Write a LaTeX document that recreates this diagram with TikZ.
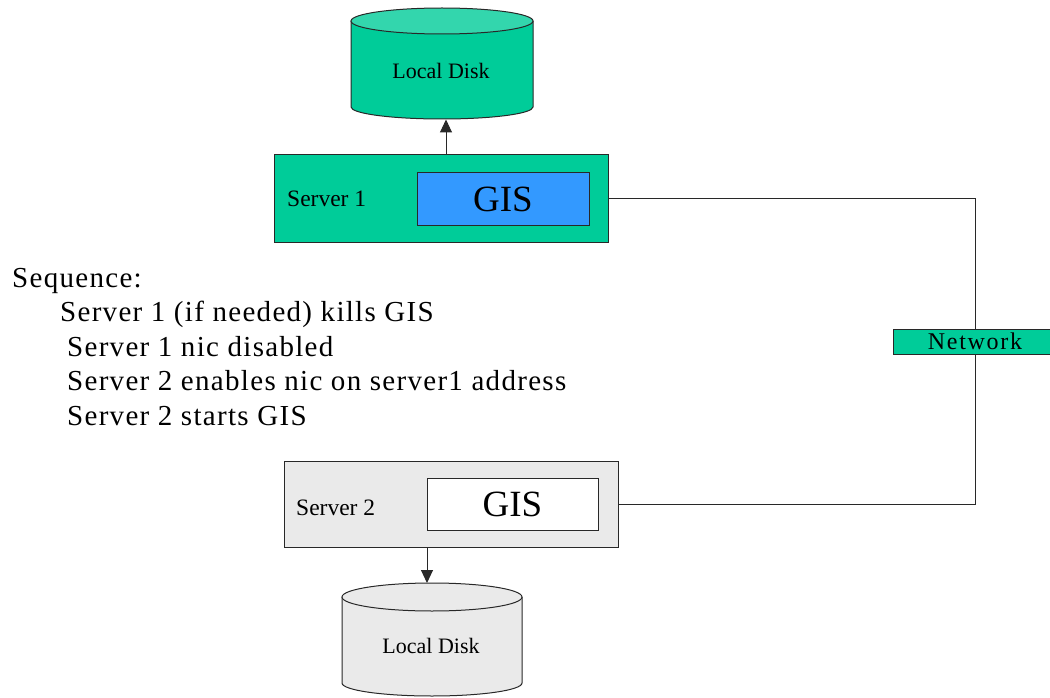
\documentclass[tikz,border=0pt]{standalone}
\usepackage{fontspec}
\setmainfont{Liberation Serif}
\usetikzlibrary{arrows.meta,calc}
\definecolor{srvgreen}{RGB}{0,204,153}
\definecolor{diskgreentop}{RGB}{51,214,173}
\definecolor{gisblue}{RGB}{51,153,255}
\definecolor{srvgray}{RGB}{234,234,234}
\definecolor{edgecol}{RGB}{40,40,40}
\begin{document}
\begin{tikzpicture}[x=1pt,y=-1pt,
  box/.style={draw=edgecol, line width=1pt, inner sep=0pt},
  lbl/.style={inner sep=0pt, anchor=base west, font=\fontsize{23.5}{27}\selectfont},
  seq/.style={inner sep=0pt, anchor=base west, font=\fontsize{29}{34}\selectfont\addfontfeature{LetterSpace=4.5}},
  gis/.style={box, font=\fontsize{37}{42}\selectfont, minimum width=172pt, minimum height=52pt},
  srv/.style={box, minimum width=334pt, minimum height=87pt},
  disklbl/.style={inner sep=0pt, font=\fontsize{22}{26}\selectfont},
  cyl/.style={draw=edgecol, line width=1pt},
  conn/.style={draw=edgecol, line width=1pt},
  arr/.style={conn, -{Triangle[length=13pt,width=12pt]}},
]
\useasboundingbox (0,0) rectangle (1050,698);
\clip (0,0) rectangle (1050,698);

% top disk
\path[cyl, fill=srvgreen] (351,21) -- (351,107) arc[start angle=180, end angle=360, x radius=91pt, y radius=12pt] -- (533,21);
\path[cyl, fill=diskgreentop] (442,21) ellipse[x radius=91pt, y radius=13pt];
\node[disklbl] (disk1) at (441,70.5) {Local Disk};
\coordinate (d1b) at (446,119.5);

% bottom disk
\path[cyl, fill=srvgray] (342,597) -- (342,683) arc[start angle=180, end angle=360, x radius=90pt, y radius=13pt] -- (522,597);
\path[cyl, fill=srvgray] (432,597) ellipse[x radius=90pt, y radius=14pt];
\node[disklbl] (disk2) at (431,645.5) {Local Disk};
\coordinate (d2t) at (427,583);

% server 1
\node[srv, fill=srvgreen] (s1) at (441,198.5) {};
\node[gis, fill=gisblue] (gis1) at (503,199) {GIS};
\node[lbl] (s1lbl) at (287,207) {Server 1};

% server 2
\node[srv, fill=srvgray, minimum height=86pt] (s2) at (451,504) {};
\node[gis, fill=white, minimum width=171pt] (gis2) at (512.5,504) {GIS};
\node[lbl] (s2lbl) at (296,515) {Server 2};

% network
\node[box, fill=srvgreen, minimum width=164pt, minimum height=25pt, font=\fontsize{24}{28}\selectfont\addfontfeature{LetterSpace=7}] (net) at (975,341.5) {Network};
\draw[conn] (s1.east) -| (net.north);
\draw[conn] (net.south) |- (s2.east);

% arrows
\draw[arr] (s1.north -| d1b) -- (d1b);
\draw[arr] (s2.south -| d2t) -- (d2t);

% sequence text
\node[seq] (seq0) at (12,287) {Sequence:};
\node[seq] (seq1) at (60,321.5) {Server 1 (if needed) kills GIS};
\node[seq] (seq2) at (67,356) {Server 1 nic disabled};
\node[seq] (seq3) at (67,390.5) {Server 2 enables nic on server1 address};
\node[seq] (seq4) at (67,425) {Server 2 starts GIS};
\end{tikzpicture}
\end{document}
